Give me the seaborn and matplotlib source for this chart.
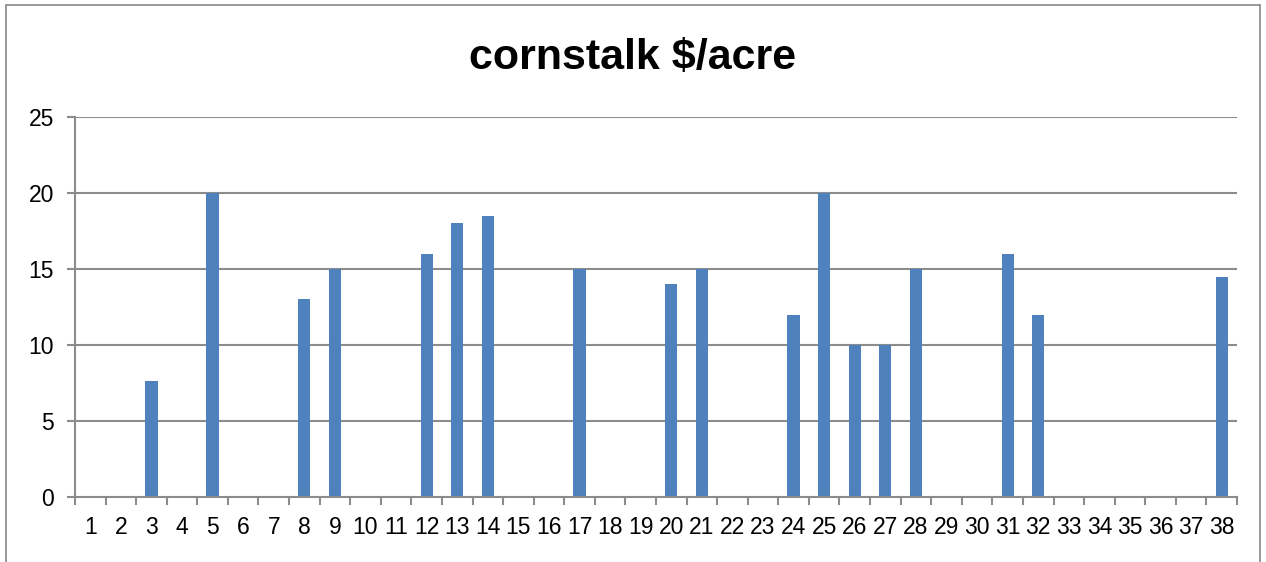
import matplotlib
matplotlib.use("Agg")
import matplotlib.pyplot as plt
import seaborn as sns
import pandas as pd
from matplotlib.lines import Line2D
from matplotlib.ticker import FixedLocator

categories = [str(i) for i in range(1, 39)]
values = [0, 0, 7.65, 0, 20, 0, 0, 13, 15, 0,
          0, 16, 18, 18.5, 0, 0, 15, 0, 0, 14,
          15, 0, 0, 12, 20, 10, 10, 15, 0, 0,
          16, 12, 0, 0, 0, 0, 0, 14.5]
y_ticks = [0, 5, 10, 15, 20, 25]
title = "cornstalk $/acre"

sns.set_theme(style="white")
plt.rcParams['font.family'] = ['Liberation Sans', 'DejaVu Sans']
plt.rcParams['text.color'] = 'black'

df = pd.DataFrame({"cat": categories, "val": values})

fig = plt.figure(figsize=(12.66, 5.62), dpi=100)
ax = fig.add_axes([75/1266, 1-497/562, (1237-75)/1266, (497-117)/562])

sns.barplot(data=df, x="cat", y="val", order=categories, color="#4F81BD",
            saturation=1, width=0.4, linewidth=0, ax=ax, zorder=3)

ax.set_xlim(-0.5, len(categories) - 0.5)
ax.set_ylim(0, 25)
ax.set_yticks(y_ticks)
ax.set_yticklabels([str(t) for t in y_ticks])
ax.set_xlabel("")
ax.set_ylabel("")

grid_c = "#8C8C8C"
for t in y_ticks[1:]:
    ax.axhline(t, color=grid_c, lw=1.5, zorder=1)

for s in ["top", "right"]:
    ax.spines[s].set_visible(False)
ax.spines["left"].set_color(grid_c)
ax.spines["bottom"].set_color(grid_c)
ax.spines["left"].set_linewidth(1.5)
ax.spines["bottom"].set_linewidth(1.5)
ax.spines["bottom"].set_zorder(4)

ax.tick_params(axis="x", which="major", length=0, pad=14, labelsize=16.5, labelcolor="black")
ax.xaxis.set_minor_locator(FixedLocator([i - 0.5 for i in range(len(categories) + 1)]))
ax.tick_params(axis="x", which="minor", length=6, width=1.5, color=grid_c, direction="out", bottom=True)
ax.tick_params(axis="y", which="major", length=6, width=1.5, color=grid_c, direction="out",
               left=True, pad=9, labelsize=16.5, labelcolor="black")

fig.text(0.5, 1-58/562, title, ha="center", va="center", fontsize=31, fontweight="bold", color="black")

border_c = "#888888"
x0, x1, y1 = 6/1266, 1260/1266, 1-5/562
fig.add_artist(Line2D([x0, x0], [-0.01, y1], color=border_c, lw=1.2, transform=fig.transFigure))
fig.add_artist(Line2D([x1, x1], [-0.01, y1], color=border_c, lw=1.2, transform=fig.transFigure))
fig.add_artist(Line2D([x0, x1], [y1, y1], color=border_c, lw=1.2, transform=fig.transFigure))

fig.savefig("out.png", dpi=100, facecolor="white")
